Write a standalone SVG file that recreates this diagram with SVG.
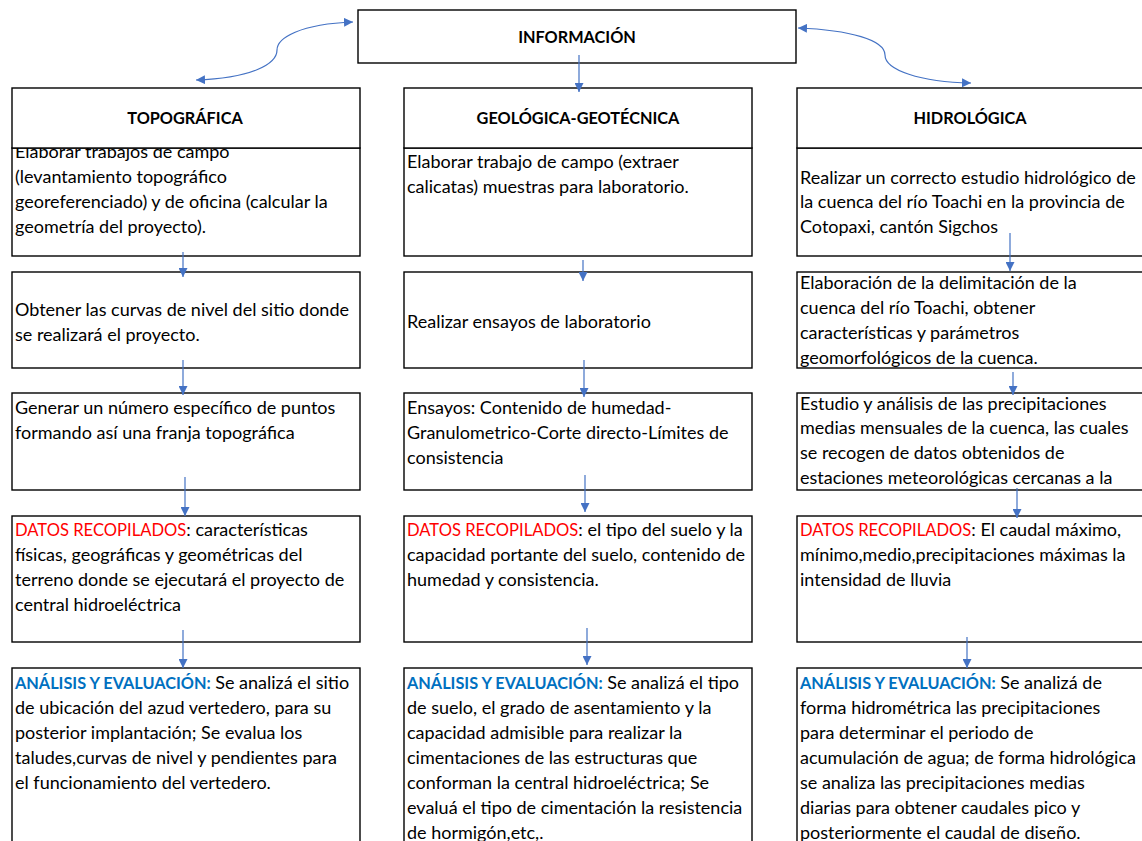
<svg xmlns="http://www.w3.org/2000/svg" width="1142" height="841" viewBox="0 0 1142 841">
<style>
.box{fill:#fff;stroke:#000;stroke-width:1.4}
.t{font-family:Lato,"Liberation Sans",sans-serif;font-size:18px;fill:#000}
.h{font-family:Lato,"Liberation Sans",sans-serif;font-size:16.3px;font-weight:bold;fill:#000;text-anchor:middle}
.red{fill:#FF0000;font-size:16.6px}
.blue{fill:#0070C0;font-weight:bold;font-size:16.3px}
.c{fill:none;stroke:#4472C4;stroke-width:1.2}
</style>
<defs>
<marker id="ah" viewBox="0 0 10 10" refX="10" refY="5" markerWidth="9" markerHeight="9" markerUnits="userSpaceOnUse" orient="auto-start-reverse">
<path d="M0,0 L10,5 L0,10 Z" fill="#4472C4"/>
</marker>
</defs>
<rect width="1142" height="841" fill="#fff"/>

<g id="informacion"><rect class="box" x="358" y="10" width="438" height="53"/><text class="h" x="577" y="43">INFORMACIÓN</text></g>

<!-- left column -->
<g id="topo-1"><rect class="box" x="12" y="148" width="348" height="108"/>
<text class="t"><tspan x="15" y="158">Elaborar trabajos de campo</tspan><tspan x="15" y="183">(levantamiento topográfico</tspan><tspan x="15" y="208">georeferenciado) y de oficina (calcular la</tspan><tspan x="15" y="233">geometría del proyecto).</tspan></text></g>
<g id="topografica"><rect class="box" x="12" y="88" width="348" height="60"/><text class="h" x="185" y="124">TOPOGRÁFICA</text></g>
<g id="topo-2"><rect class="box" x="12" y="272" width="348" height="96"/>
<text class="t"><tspan x="15" y="316">Obtener las curvas de nivel del sitio donde</tspan><tspan x="15" y="341">se realizará el proyecto.</tspan></text></g>
<g id="topo-3"><rect class="box" x="12" y="393" width="348" height="97"/>
<text class="t"><tspan x="15" y="414">Generar un número específico de puntos</tspan><tspan x="15" y="439">formando así una franja topográfica</tspan></text></g>
<g id="topo-4"><rect class="box" x="12" y="516" width="348" height="126"/>
<text class="t"><tspan x="15" y="536"><tspan class="red">DATOS RECOPILADOS</tspan>: características</tspan><tspan x="15" y="561">físicas, geográficas y geométricas del</tspan><tspan x="15" y="586">terreno donde se ejecutará el proyecto de</tspan><tspan x="15" y="611">central hidroeléctrica</tspan></text></g>
<g id="topo-5"><rect class="box" x="12" y="668" width="348" height="200"/>
<text class="t"><tspan x="15" y="689"><tspan class="blue">ANÁLISIS Y EVALUACIÓN:</tspan> Se analizá el sitio</tspan><tspan x="15" y="714">de ubicación del azud vertedero, para su</tspan><tspan x="15" y="739">posterior implantación; Se evalua los</tspan><tspan x="15" y="764">taludes,curvas de nivel y pendientes para</tspan><tspan x="15" y="789">el funcionamiento del vertedero.</tspan></text></g>

<!-- middle column -->
<g id="geo-1"><rect class="box" x="404" y="148" width="348" height="108"/>
<text class="t"><tspan x="407" y="168">Elaborar trabajo de campo (extraer</tspan><tspan x="407" y="193">calicatas) muestras para laboratorio.</tspan></text></g>
<g id="geologica"><rect class="box" x="404" y="88" width="348" height="60"/><text class="h" x="578" y="124">GEOLÓGICA-GEOTÉCNICA</text></g>
<g id="geo-2"><rect class="box" x="404" y="272" width="348" height="96"/>
<text class="t"><tspan x="407" y="328">Realizar ensayos de laboratorio</tspan></text></g>
<g id="geo-3"><rect class="box" x="404" y="393" width="348" height="97"/>
<text class="t"><tspan x="407" y="414">Ensayos: Contenido de humedad-</tspan><tspan x="407" y="439">Granulometrico-Corte directo-Límites de</tspan><tspan x="407" y="464">consistencia</tspan></text></g>
<g id="geo-4"><rect class="box" x="404" y="516" width="348" height="126"/>
<text class="t"><tspan x="407" y="536"><tspan class="red">DATOS RECOPILADOS</tspan>: el tipo del suelo y la</tspan><tspan x="407" y="561">capacidad portante del suelo, contenido de</tspan><tspan x="407" y="586">humedad y consistencia.</tspan></text></g>
<g id="geo-5"><rect class="box" x="404" y="668" width="348" height="200"/>
<text class="t"><tspan x="407" y="689"><tspan class="blue">ANÁLISIS Y EVALUACIÓN:</tspan> Se analizá el tipo</tspan><tspan x="407" y="714">de suelo, el grado de asentamiento y la</tspan><tspan x="407" y="739">capacidad admisible para realizar la</tspan><tspan x="407" y="764">cimentaciones de las estructuras que</tspan><tspan x="407" y="789">conforman la central hidroeléctrica; Se</tspan><tspan x="407" y="814">evaluá el tipo de cimentación la resistencia</tspan><tspan x="407" y="839">de hormigón,etc,.</tspan></text></g>

<!-- right column -->
<g id="hidro-1"><rect class="box" x="797" y="148" width="360" height="108"/>
<text class="t"><tspan x="800" y="184">Realizar un correcto estudio hidrológico de</tspan><tspan x="800" y="208">la cuenca del río Toachi en la provincia de</tspan><tspan x="800" y="233">Cotopaxi, cantón Sigchos</tspan></text></g>
<g id="hidrologica"><rect class="box" x="797" y="88" width="360" height="60"/><text class="h" x="970" y="124">HIDROLÓGICA</text></g>
<g id="hidro-2"><rect class="box" x="797" y="272" width="360" height="96"/>
<text class="t"><tspan x="800" y="289">Elaboración  de la delimitación de la</tspan><tspan x="800" y="314">cuenca del río Toachi,  obtener</tspan><tspan x="800" y="339">características y parámetros</tspan><tspan x="800" y="364">geomorfológicos de la cuenca.</tspan></text></g>
<g id="hidro-3"><rect class="box" x="797" y="393" width="360" height="97"/>
<text class="t"><tspan x="800" y="410">Estudio y análisis de las precipitaciones</tspan><tspan x="800" y="434">medias mensuales de la cuenca, las cuales</tspan><tspan x="800" y="459">se recogen de datos obtenidos de</tspan><tspan x="800" y="484">estaciones meteorológicas cercanas a la</tspan></text></g>
<g id="hidro-4"><rect class="box" x="797" y="516" width="360" height="126"/>
<text class="t"><tspan x="800" y="536"><tspan class="red">DATOS RECOPILADOS</tspan>: El caudal máximo,</tspan><tspan x="800" y="561">mínimo,medio,precipitaciones máximas la</tspan><tspan x="800" y="586">intensidad de lluvia</tspan></text></g>
<g id="hidro-5"><rect class="box" x="797" y="668" width="360" height="200"/>
<text class="t"><tspan x="800" y="689"><tspan class="blue">ANÁLISIS Y EVALUACIÓN:</tspan> Se analizá de</tspan><tspan x="800" y="714">forma hidrométrica las precipitaciones</tspan><tspan x="800" y="739">para determinar el periodo de</tspan><tspan x="800" y="764">acumulación de agua; de forma hidrológica</tspan><tspan x="800" y="789">se analiza las precipitaciones medias</tspan><tspan x="800" y="814">diarias para obtener caudales pico y</tspan><tspan x="800" y="839">posteriormente el caudal de diseño.</tspan></text></g>

<g id="connectors">
<path class="c" d="M353,22 C300,24 277,38 277,50 C277,64 252,78 196,80" marker-start="url(#ah)" marker-end="url(#ah)"/>
<path class="c" d="M798,28 C850,30 885,40 885,55 C885,70 920,82 971,83" marker-start="url(#ah)" marker-end="url(#ah)"/>
<line class="c" x1="579" y1="55" x2="579" y2="92" marker-end="url(#ah)"/>
<line class="c" x1="183" y1="252" x2="183" y2="277" marker-end="url(#ah)"/>
<line class="c" x1="183" y1="360" x2="183" y2="395" marker-end="url(#ah)"/>
<line class="c" x1="185" y1="477" x2="185" y2="516" marker-end="url(#ah)"/>
<line class="c" x1="183" y1="630" x2="183" y2="668" marker-end="url(#ah)"/>
<line class="c" x1="583" y1="260" x2="583" y2="281" marker-end="url(#ah)"/>
<line class="c" x1="584" y1="360" x2="584" y2="397" marker-end="url(#ah)"/>
<line class="c" x1="585" y1="475" x2="585" y2="512" marker-end="url(#ah)"/>
<line class="c" x1="587" y1="628" x2="587" y2="665" marker-end="url(#ah)"/>
<line class="c" x1="1010" y1="233" x2="1010" y2="271" marker-end="url(#ah)"/>
<line class="c" x1="1013" y1="372" x2="1013" y2="395" marker-end="url(#ah)"/>
<line class="c" x1="1017" y1="488" x2="1017" y2="518" marker-end="url(#ah)"/>
<line class="c" x1="967" y1="637" x2="967" y2="668" marker-end="url(#ah)"/>
</g>
</svg>
